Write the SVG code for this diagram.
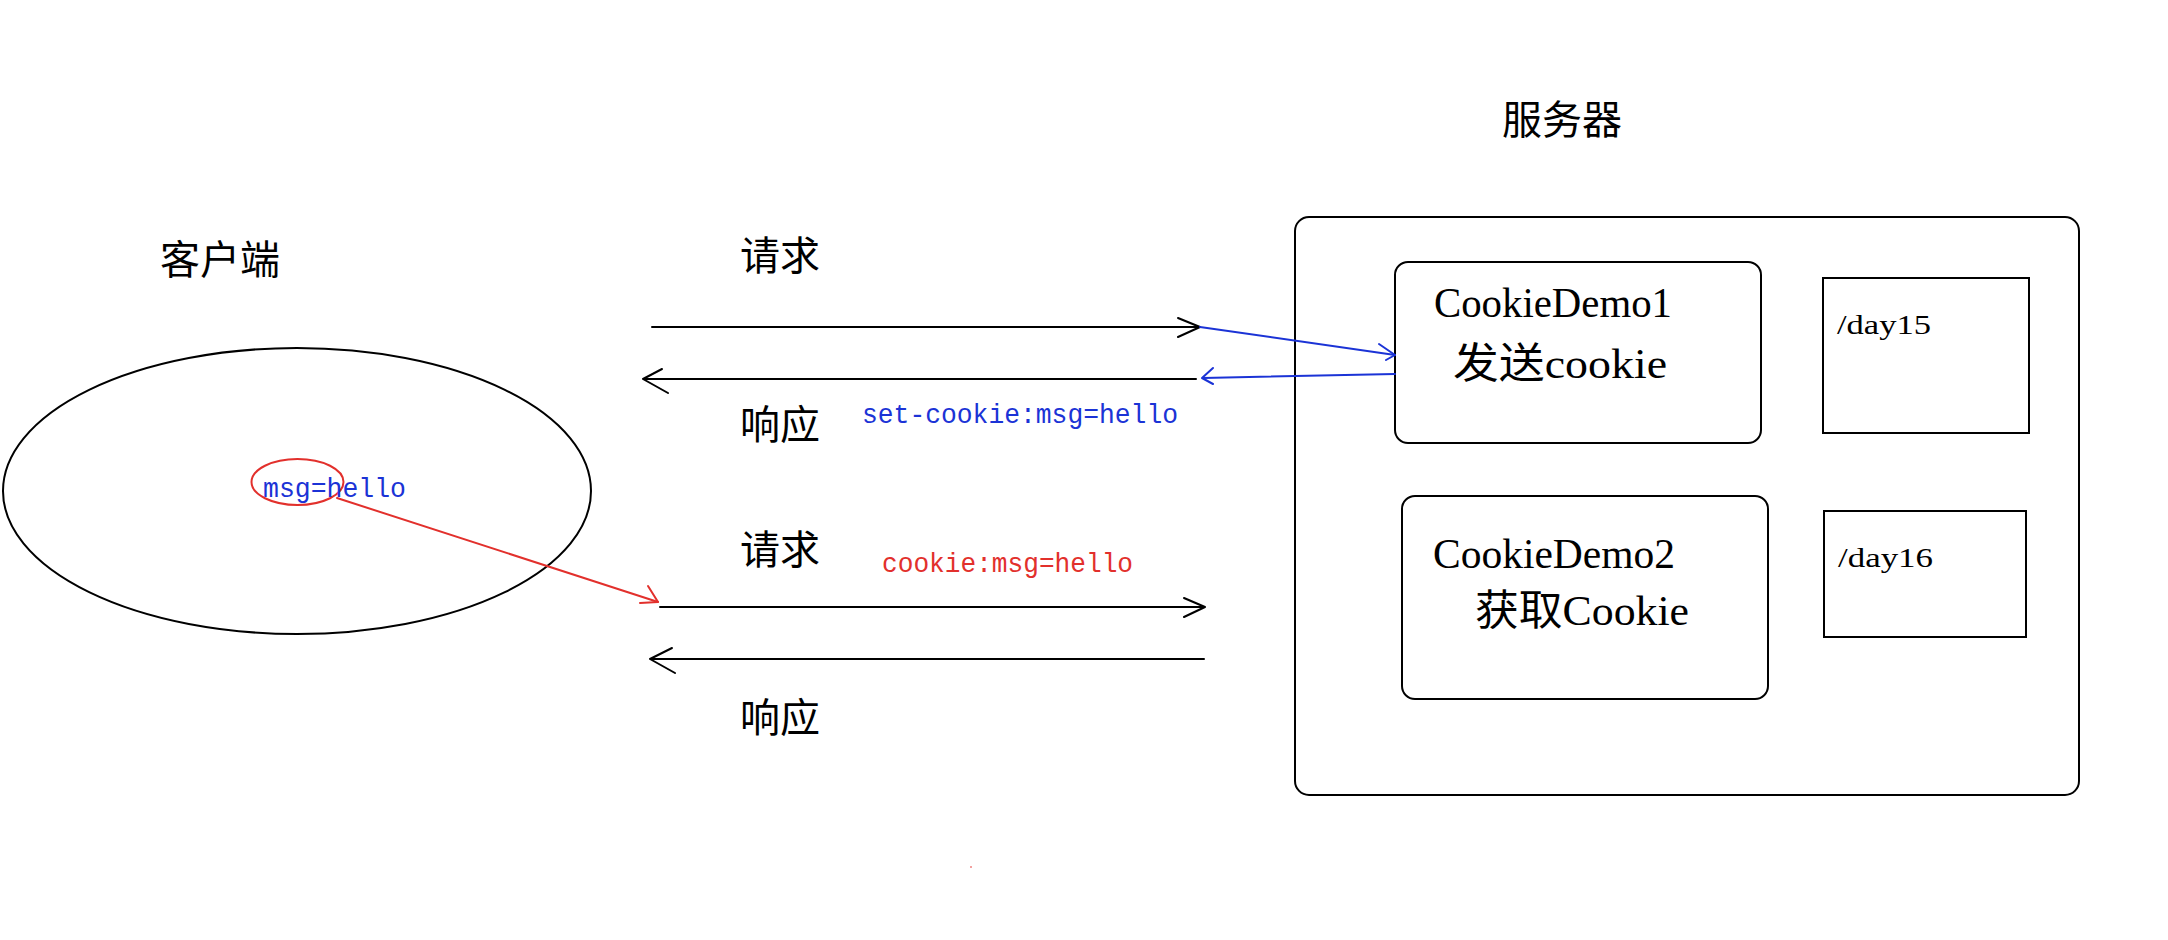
<svg xmlns="http://www.w3.org/2000/svg" width="2168" height="940" viewBox="0 0 2168 940">
<style>
.bg{fill:#ffffff}
.shape{fill:none;stroke:#000;stroke-width:2}
.cjk{font-family:"Noto Sans CJK SC","Noto Sans CJK JP",sans-serif;font-size:40px;fill:#000}
.serif{font-family:"Liberation Serif","Noto Sans CJK SC",serif;font-size:42px;fill:#000}
.small{font-family:"Liberation Serif",serif;font-size:28px;fill:#000}
.mono{font-family:"Liberation Mono",monospace;font-size:28px}
.blue{fill:#1b33d6}
.red{fill:#e2302c}
.ln{fill:none;stroke-width:2;stroke-linecap:round;stroke-linejoin:round}
.k{stroke:#000}
.b{stroke:#1b33d6}
.r{stroke:#e2302c}
</style>
<rect class="bg" x="0" y="0" width="2168" height="940"/>

<g id="server-title"><text class="cjk" x="1502" y="134">服务器</text></g>

<g id="client">
  <text class="cjk" x="160" y="274">客户端</text>
  <ellipse class="shape" cx="297" cy="491" rx="294" ry="143"/>
</g>

<g id="cookie-value">
  <ellipse fill="none" stroke="#e2302c" stroke-width="2" cx="297.5" cy="482" rx="46" ry="23"/>
  <text class="mono blue" x="263" y="497" textLength="143" lengthAdjust="spacingAndGlyphs">msg=hello</text>
</g>

<g id="server">
  <rect class="shape" x="1295" y="217" width="784" height="578" rx="14" ry="14"/>
</g>

<g id="cookiedemo1">
  <rect class="shape" x="1395" y="262" width="366" height="181" rx="13" ry="13"/>
  <text class="serif" x="1434" y="317" textLength="238" lengthAdjust="spacingAndGlyphs">CookieDemo1</text>
  <text class="serif" x="1453" y="378" textLength="214" lengthAdjust="spacingAndGlyphs">发送cookie</text>
</g>

<g id="day15">
  <rect class="shape" x="1823" y="278" width="206" height="155"/>
  <text class="small" x="1837" y="334" textLength="94" lengthAdjust="spacingAndGlyphs">/day15</text>
</g>

<g id="cookiedemo2">
  <rect class="shape" x="1402" y="496" width="366" height="203" rx="13" ry="13"/>
  <text class="serif" x="1433" y="568" textLength="242" lengthAdjust="spacingAndGlyphs">CookieDemo2</text>
  <text class="serif" x="1475" y="625" textLength="214" lengthAdjust="spacingAndGlyphs">获取Cookie</text>
</g>

<g id="day16">
  <rect class="shape" x="1824" y="511" width="202" height="126"/>
  <text class="small" x="1838" y="567" textLength="95" lengthAdjust="spacingAndGlyphs">/day16</text>
</g>

<g id="labels">
  <text class="cjk" x="740" y="270">请求</text>
  <text class="cjk" x="740" y="439">响应</text>
  <text class="mono blue" x="862" y="423" textLength="316" lengthAdjust="spacingAndGlyphs">set-cookie:msg=hello</text>
  <text class="cjk" x="740" y="564">请求</text>
  <text class="mono red" x="882" y="572" textLength="251" lengthAdjust="spacingAndGlyphs">cookie:msg=hello</text>
  <text class="cjk" x="740" y="732">响应</text>
</g>

<g id="connectors">
  <!-- request 1 -->
  <line class="ln k" x1="652" y1="327" x2="1199" y2="327"/>
  <polyline class="ln k" points="1178,318 1200,327 1178,337"/>
  <!-- response 1 -->
  <line class="ln k" x1="1196" y1="379" x2="645" y2="379"/>
  <polyline class="ln k" points="662,369 643,379 668,393"/>
  <!-- blue request continuation -->
  <line class="ln b" x1="1200" y1="327" x2="1395" y2="355"/>
  <polyline class="ln b" points="1379,344 1395,355 1386,360"/>
  <!-- blue response -->
  <line class="ln b" x1="1395" y1="374" x2="1203" y2="378"/>
  <polyline class="ln b" points="1213,368 1202,378 1213,384"/>
  <!-- red cookie arrow -->
  <line class="ln r" x1="337" y1="498" x2="658" y2="602"/>
  <polyline class="ln r" points="648,586 658,602 640,603"/>
  <!-- request 2 -->
  <line class="ln k" x1="660" y1="607" x2="1204" y2="607"/>
  <polyline class="ln k" points="1184,598 1205,607 1184,617"/>
  <!-- response 2 -->
  <line class="ln k" x1="1204" y1="659" x2="652" y2="659"/>
  <polyline class="ln k" points="672,648 650,659 675,673"/>
</g>

<circle cx="971" cy="867" r="1" fill="#e2302c" opacity="0.6"/>
</svg>
